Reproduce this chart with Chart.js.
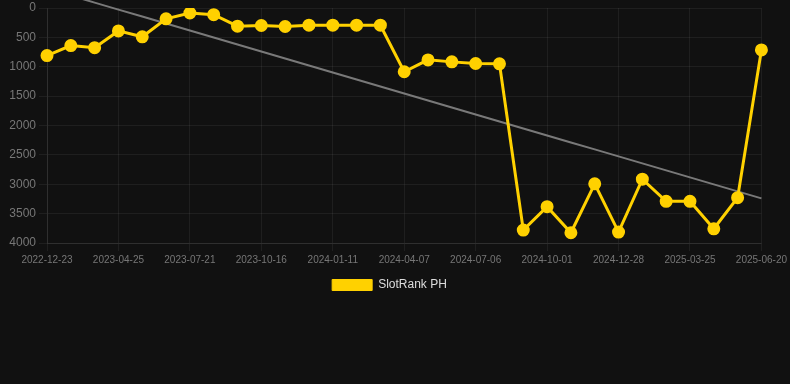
<!DOCTYPE html>
<html>
<head>
<meta charset="utf-8">
<script src="https://cdn.jsdelivr.net/npm/chart.js@4/dist/chart.umd.min.js"></script>
<style>
  html, body { margin: 0; padding: 0; background: #111111; }
  #wrap { position: relative; width: 790px; height: 301px; }
</style>
</head>
<body>
<div id="wrap"><canvas id="c"></canvas></div>
<script>
const categories = [
  "2022-12-23","2023-02-03","2023-03-15","2023-04-25","2023-05-24","2023-06-22",
  "2023-07-21","2023-08-19","2023-09-17","2023-10-16","2023-11-14","2023-12-13",
  "2024-01-11","2024-02-09","2024-03-09","2024-04-07","2024-05-07","2024-06-06",
  "2024-07-06","2024-08-04","2024-09-02","2024-10-01","2024-10-30","2024-11-28",
  "2024-12-28","2025-01-26","2025-02-24","2025-03-25","2025-04-23","2025-05-22",
  "2025-06-20"
];
const rankValues = [
  810, 640, 675, 390, 490, 185, 85, 113, 310, 298, 315, 293, 293, 293, 293,
  1085, 883, 917, 945, 950, 3780, 3381, 3826, 2993, 3814, 2914, 3291, 3291, 3758, 3229, 714
];
const trendStart = -330;
const trendEnd = 3240;
const yTicks = [0, 500, 1000, 1500, 2000, 2500, 3000, 3500, 4000];
const seriesName = "SlotRank PH";

const trendValues = categories.map((_, i) => trendStart + (trendEnd - trendStart) * i / (categories.length - 1));

new Chart(document.getElementById('c'), {
  type: 'line',
  data: {
    labels: categories,
    datasets: [
      {
        label: seriesName,
        data: rankValues,
        borderColor: '#FFD100',
        backgroundColor: '#FFD100',
        borderWidth: 3,
        pointRadius: 5,
        pointHoverRadius: 5,
        pointBackgroundColor: '#FFD100',
        pointBorderColor: '#FFD100',
        tension: 0,
        order: 1
      },
      {
        label: 'trend',
        data: trendValues,
        borderColor: 'rgba(140,140,140,0.85)',
        borderWidth: 2,
        pointRadius: 0,
        fill: false,
        clip: false,
        order: 2
      }
    ]
  },
  options: {
    responsive: true,
    maintainAspectRatio: false,
    animation: false,
    layout: { padding: { left: 0, top: 0, right: 11, bottom: 0 } },
    plugins: {
      legend: {
        position: 'bottom',
        labels: {
          color: '#dddddd',
          font: { family: 'Liberation Sans, Arial, sans-serif', size: 12 },
          boxWidth: 40,
          boxHeight: 11,
          generateLabels: (chart) => Chart.defaults.plugins.legend.labels.generateLabels(chart)
            .filter(it => it.text === seriesName)
            .map(it => Object.assign(it, { lineWidth: 1 }))
        }
      },
      tooltip: { enabled: false }
    },
    scales: {
      x: {
        grid: { color: 'rgba(255,255,255,0.06)' },
        border: { color: 'rgba(255,255,255,0.08)' },
        ticks: {
          color: '#777777',
          font: { family: 'Liberation Sans, Arial, sans-serif', size: 10 },
          autoSkip: false,
          maxRotation: 0,
          callback: function (v, i) { return i % 3 === 0 ? categories[i] : null; }
        }
      },
      y: {
        reverse: true,
        min: 0,
        max: 4000,
        afterBuildTicks: (axis) => { axis.ticks = yTicks.map(v => ({ value: v })); },
        afterFit: (axis) => { axis.width = 47; axis.paddingTop = 4; axis.paddingBottom = 0; },
        grid: { color: 'rgba(255,255,255,0.06)' },
        border: { color: 'rgba(255,255,255,0.08)' },
        ticks: {
          color: '#777777',
          font: { family: 'Liberation Sans, Arial, sans-serif', size: 12 },
          callback: (v) => String(v)
        }
      }
    }
  }
});
</script>
</body>
</html>
